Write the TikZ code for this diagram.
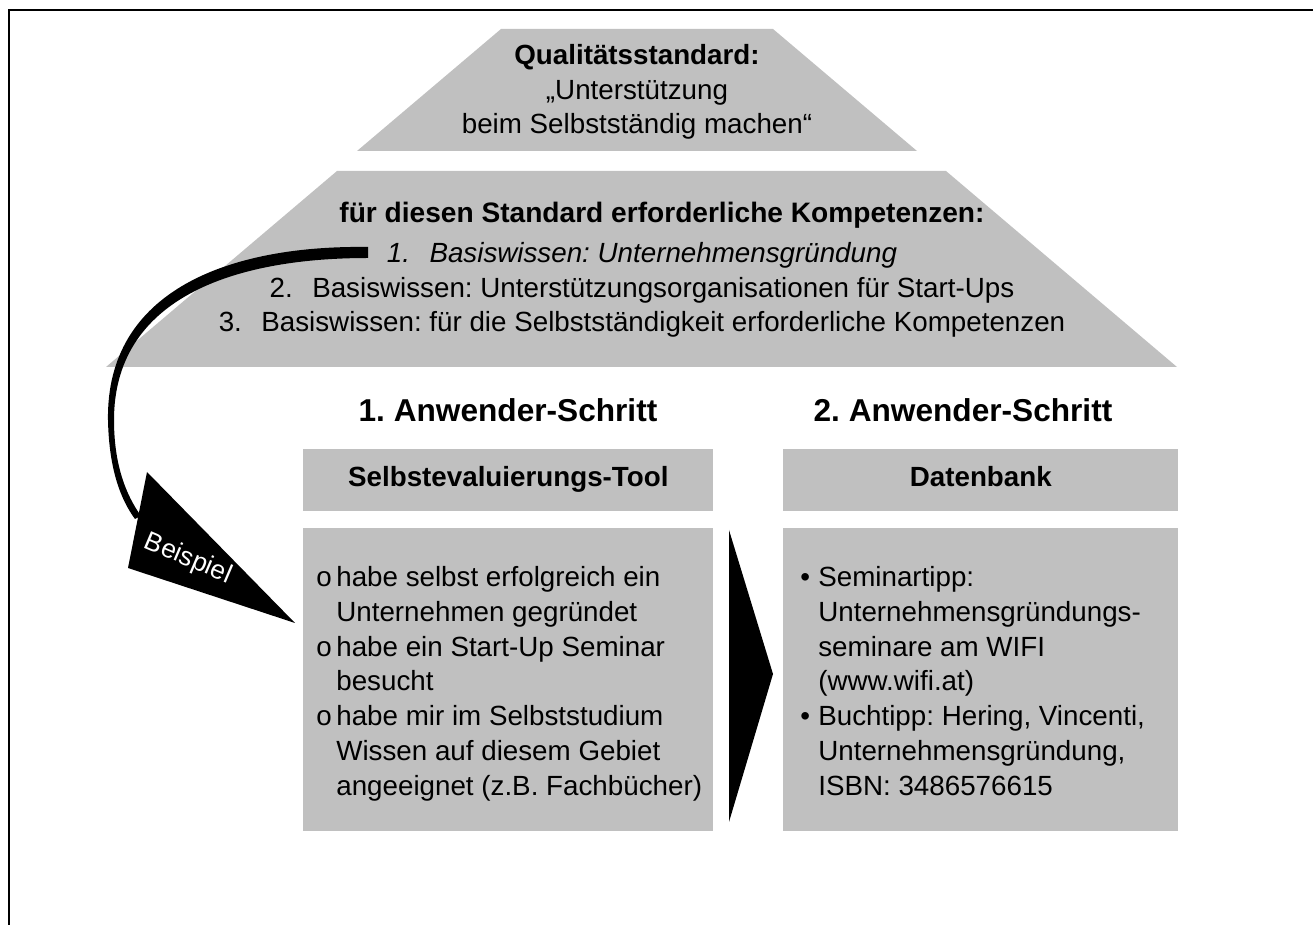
\documentclass[tikz,border=0pt]{standalone}
\usepackage{fontspec}
\setmainfont{Liberation Sans}
\frenchspacing
\definecolor{boxgray}{HTML}{C0C0C0}
\begin{document}
\begin{tikzpicture}[x=0.02cm,y=-0.02cm,
% common options for the grey boxes:
box/.style = {fill=boxgray, align=center, anchor=north west, inner sep=0,
            text height=0.72em, text depth=0em,
            font=\fontsize{15.8}{19.5}\selectfont\bfseries},
% common options for plain texts:
txt/.style = {align=center, inner sep=0, font=\fontsize{15.8}{19.8}\selectfont},
% common options for the step headings:
head/.style = {inner sep=0, font=\fontsize{18}{22}\selectfont\bfseries}]
\useasboundingbox (0,0) rectangle (1313,925);
% frame
\draw[line width=1.2pt] (9,925) -- (9,10) -- (1313,10);
% roof
\fill[boxgray] (501,29) -- (773,29) -- (917,151) -- (357,151) -- cycle;
\fill[boxgray] (337,171) -- (946,171) -- (1177,367) -- (106,367) -- cycle;
\node[txt] (std) at (637,92) {\textbf{Qualitätsstandard:}\\„Unterstützung\\beim Selbstständig machen“};
\node[txt, font=\fontsize{16}{19.8}\selectfont\bfseries] (komp) at (662,215) {für diesen Standard erforderliche Kompetenzen:};
\node[txt] (list) at (642,290) {\textit{1.\hspace{0.7em}Basiswissen: Unternehmensgründung}\\
  2.\hspace{0.7em}Basiswissen: Unterstützungsorganisationen für Start-Ups\\
  3.\hspace{0.7em}Basiswissen: für die Selbstständigkeit erforderliche Kompetenzen};
% steps
\node[head] (s1) at (508,410) {1. Anwender-Schritt};
\node[head] (s2) at (963,410) {2. Anwender-Schritt};
\node[box, minimum width=8.2cm, minimum height=1.24cm] (tool) at (303,449) {Selbstevaluierungs-Tool};
\node[box, minimum width=7.9cm, minimum height=1.24cm] (db) at (783,449) {Datenbank};
\node[box, minimum width=8.2cm, minimum height=6.06cm] (toolbox) at (303,528) {};
\node[box, minimum width=7.9cm, minimum height=6.06cm] (dbbox) at (783,528) {};
\node[txt, align=left, anchor=north west] (tooltxt) at (316,566) {%
  \makebox[0.4cm][l]{o}habe selbst erfolgreich ein\\
  \hspace*{0.4cm}Unternehmen gegründet\\
  \makebox[0.4cm][l]{o}habe ein Start-Up Seminar\\
  \hspace*{0.4cm}besucht\\
  \makebox[0.4cm][l]{o}habe mir im Selbststudium\\
  \hspace*{0.4cm}Wissen auf diesem Gebiet\\
  \hspace*{0.4cm}angeeignet (z.B. Fachbücher)};
\node[txt, align=left, anchor=north west] (dbtxt) at (800,566) {%
  \makebox[0.36cm][l]{•}Seminartipp:\\
  \hspace*{0.36cm}Unternehmensgründungs-\\
  \hspace*{0.36cm}seminare am WIFI\\
  \hspace*{0.36cm}(www.wifi.at)\\
  \makebox[0.36cm][l]{•}Buchtipp: Hering, Vincenti,\\
  \hspace*{0.36cm}Unternehmensgründung,\\
  \hspace*{0.36cm}ISBN: 3486576615};
% big arrow between the steps
\fill (729,530) -- (773,674) -- (729,822) -- cycle;
% example arrow
\fill (368,247) .. controls (230,245) and (106,290) .. (108,420)
  .. controls (109,470) and (121,500) .. (135,519)
  -- (141,516) .. controls (126,495) and (114,465) .. (114,420)
  .. controls (114,300) and (230,258) .. (368,258) -- cycle;
\fill (147,472) -- (295,623) -- (128,568) -- cycle;
\node[text=white, inner sep=0, rotate=-23, font=\fontsize{15}{17}\selectfont] (bsp) at (188,559) {Beispiel};
\end{tikzpicture}
\end{document}
